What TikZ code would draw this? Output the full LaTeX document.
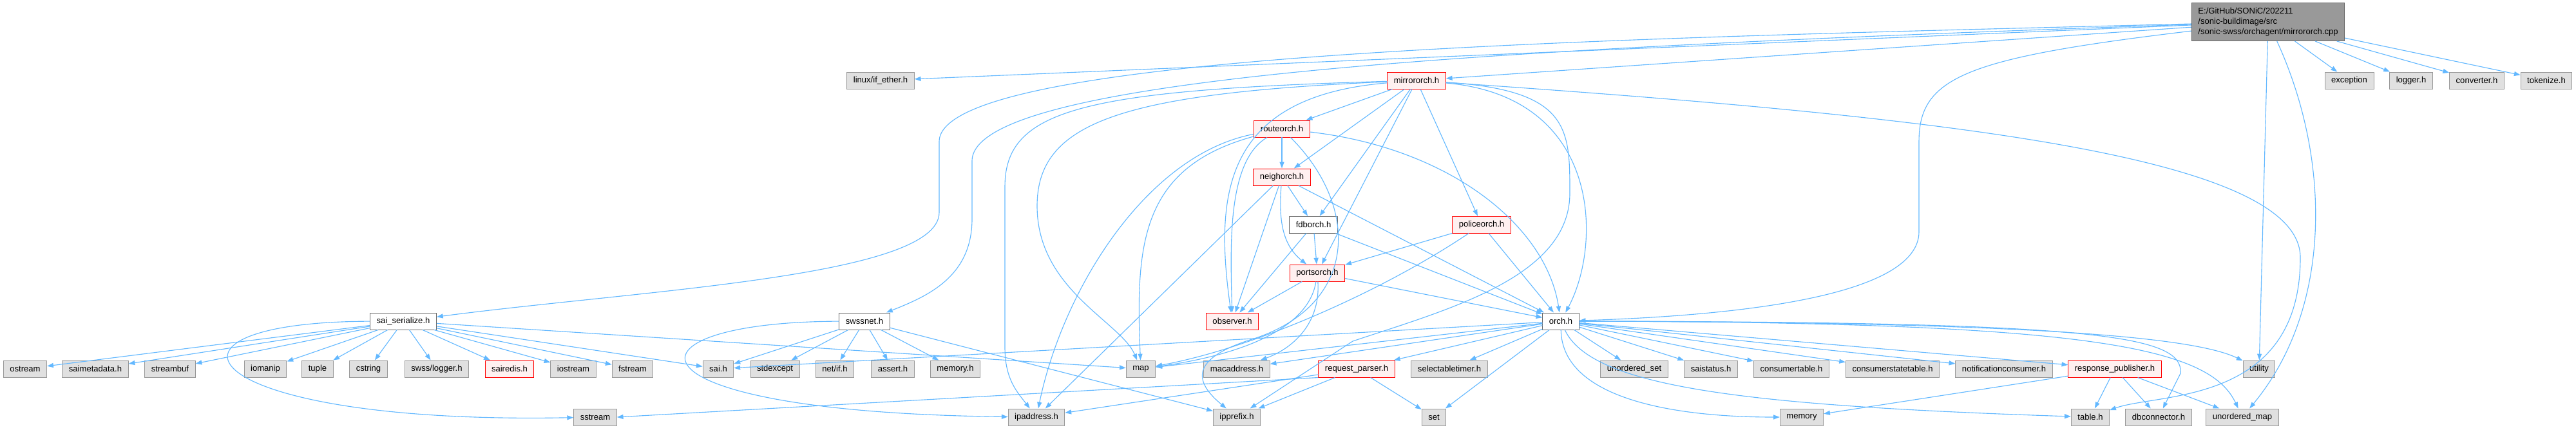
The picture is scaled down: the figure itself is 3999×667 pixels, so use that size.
\documentclass[tikz,border=0pt]{standalone}
\usepackage{fontspec}
\setmainfont{Liberation Sans}
\usetikzlibrary{arrows.meta}
\definecolor{edgeblue}{HTML}{63B8FF}
\definecolor{cutred}{HTML}{FF0000}
\definecolor{cutfill}{HTML}{FFF0F0}
\begin{document}
\begin{tikzpicture}[x=0.25mm,y=-0.25mm,font=\fontsize{9.3}{11.3}\selectfont,
    box/.style={line width=0.7pt,minimum height=6.5mm,inner xsep=2.5mm,inner ysep=0pt},
    sysfile/.style={box,draw=black!40,fill=black!12},
    docfile/.style={box,draw=black!60,fill=white},
    cutfile/.style={box,draw=cutred,fill=cutfill},
    rootfile/.style={box,draw=black!60,fill=black!40,align=left,minimum height=14.75mm},
    arr/.style={draw=edgeblue,line width=0.8pt,-{Triangle[length=7pt,width=5pt]}}]
  \useasboundingbox (0,0) rectangle (3999,667);
  \node[rootfile] (root) at (3521,34)
    {E:/GitHub/SONiC/202211\\/sonic-buildimage/src\\/sonic-swss/orchagent/mirrororch.cpp};
  \node[sysfile] (ifether) at (1367,125) {linux/if\_ether.h};
  \node[cutfile] (mirror) at (2199,125) {mirrororch.h};
  \node[sysfile] (exception) at (3647,125) {exception};
  \node[sysfile] (logger) at (3743,125) {logger.h};
  \node[sysfile] (converter) at (3845,125) {converter.h};
  \node[sysfile] (tokenize) at (3953,125) {tokenize.h};
  \node[cutfile] (route) at (1990,200) {routeorch.h};
  \node[cutfile] (neigh) at (1990,275) {neighorch.h};
  \node[docfile] (fdb) at (2039,349) {fdborch.h};
  \node[cutfile] (police) at (2300,349) {policeorch.h};
  \node[cutfile] (ports) at (2045,424) {portsorch.h};
  \node[docfile] (saiser) at (626,499) {sai\_serialize.h};
  \node[docfile] (swssnet) at (1342,499) {swssnet.h};
  \node[cutfile] (observer) at (1913,499) {observer.h};
  \node[docfile] (orch) at (2423,499) {orch.h};
  \node[sysfile] (ostream) at (39,573) {ostream};
  \node[sysfile] (saimeta) at (148,573) {saimetadata.h};
  \node[sysfile] (streambuf) at (264,573) {streambuf};
  \node[sysfile] (iomanip) at (412,573) {iomanip};
  \node[sysfile] (tuple) at (493,573) {tuple};
  \node[sysfile] (cstring) at (572,573) {cstring};
  \node[sysfile] (swsslog) at (678,573) {swss/logger.h};
  \node[cutfile] (sairedis) at (791,573) {sairedis.h};
  \node[sysfile] (iostream) at (890,573) {iostream};
  \node[sysfile] (fstream) at (982,573) {fstream};
  \node[sysfile] (sai) at (1115,573) {sai.h};
  \node[sysfile] (stdexcept) at (1203,573) {stdexcept};
  \node[sysfile] (netif) at (1296,573) {net/if.h};
  \node[sysfile] (assert) at (1386,573) {assert.h};
  \node[sysfile] (memoryh) at (1483,573) {memory.h};
  \node[sysfile] (map) at (1771,573) {map};
  \node[sysfile] (macaddr) at (1920,573) {macaddress.h};
  \node[cutfile] (reqparser) at (2106,573) {request\_parser.h};
  \node[sysfile] (seltimer) at (2250,573) {selectabletimer.h};
  \node[sysfile] (uset) at (2537,573) {unordered\_set};
  \node[sysfile] (saistatus) at (2656,573) {saistatus.h};
  \node[sysfile] (constable) at (2781,573) {consumertable.h};
  \node[sysfile] (consstate) at (2938,573) {consumerstatetable.h};
  \node[sysfile] (notif) at (3111,573) {notificationconsumer.h};
  \node[cutfile] (resppub) at (3283,573) {response\_publisher.h};
  \node[sysfile] (utility) at (3507,573) {utility};
  \node[sysfile] (sstream) at (924,648) {sstream};
  \node[sysfile] (ipaddress) at (1609,648) {ipaddress.h};
  \node[sysfile] (ipprefix) at (1920,648) {ipprefix.h};
  \node[sysfile] (set) at (2226,648) {set};
  \node[sysfile] (memory) at (2797,648) {memory};
  \node[sysfile] (table) at (3245,648) {table.h};
  \node[sysfile] (dbconn) at (3351,648) {dbconnector.h};
  \node[sysfile] (umap) at (3481,648) {unordered\_map};

  \path (root) edge[arr] (ifether) edge[arr] (mirror) edge[arr] (utility)
    edge[arr] (exception) edge[arr] (logger) edge[arr] (converter) edge[arr] (tokenize);
  \draw[arr] (root) .. controls (2500,60) and (1458,80) .. (1458,220) -- (1458,330)
    .. controls (1458,430) and (1000,450) .. (saiser);
  \draw[arr] (root) .. controls (2300,75) and (1509,120) .. (1509,250) -- (1509,340)
    .. controls (1509,430) and (1440,460) .. (swssnet);
  \draw[arr] (root) .. controls (3050,90) and (2979,120) .. (2979,220) -- (2979,360)
    .. controls (2979,460) and (2700,490) .. (orch);
  \draw[arr] (root) .. controls (3620,250) and (3620,480) .. (umap);

  \path (mirror) edge[arr] (route) edge[arr] (neigh) edge[arr] (fdb) edge[arr] (ports)
    edge[arr] (police);
  \draw[arr] (mirror) .. controls (1900,150) and (1885,300) .. (observer);
  \draw[arr] (mirror) .. controls (2487,150) and (2487,380) .. (orch);
  \draw[arr] (mirror) .. controls (2437,140) and (2437,200) .. (2437,300)
    .. controls (2437,430) and (2250,480) .. (2100,530) -- (ipprefix);
  \draw[arr] (mirror) .. controls (3000,180) and (3571,240) .. (3571,400)
    .. controls (3571,630) and (3350,610) .. (table);
  \draw[arr] (mirror) .. controls (1680,140) and (1560,170) .. (1560,290) -- (1560,540)
    .. controls (1560,590) and (1580,610) .. (ipaddress);
  \draw[arr] (mirror) .. controls (1740,145) and (1610,190) .. (1610,320)
    .. controls (1610,450) and (1740,500) .. (map);

  \path (route) edge[arr] (neigh);
  \draw[arr] (route) .. controls (1905,250) and (1910,380) .. (observer);
  \draw[arr] (route) .. controls (1780,240) and (1650,450) .. (ipaddress);
  \draw[arr] (route) .. controls (1770,260) and (1763,380) .. (map);
  \draw[arr] (route) .. controls (2110,320) and (2110,470) .. (1950,525)
    .. controls (1850,555) and (1850,590) .. (ipprefix);
  \draw[arr] (route) .. controls (2250,230) and (2400,350) .. (orch);

  \path (neigh) edge[arr] (fdb) edge[arr] (observer) edge[arr] (orch) edge[arr] (ipaddress);
  \draw[arr] (neigh) .. controls (1985,340) and (1990,380) .. (ports);
  \path (fdb) edge[arr] (ports) edge[arr] (observer) edge[arr] (orch);
  \path (police) edge[arr] (ports) edge[arr] (orch);
  \draw[arr] (police) .. controls (2150,450) and (1950,540) .. (map);
  \path (ports) edge[arr] (observer) edge[arr] (orch);
  \draw[arr] (ports) .. controls (2030,520) and (1900,555) .. (map);
  \draw[arr] (ports) .. controls (2050,500) and (2010,540) .. (macaddr);

  \path (orch) edge[arr] (sai) edge[arr] (map) edge[arr] (macaddr) edge[arr] (reqparser)
    edge[arr] (seltimer) edge[arr] (set) edge[arr] (uset) edge[arr] (saistatus)
    edge[arr] (constable) edge[arr] (consstate) edge[arr] (notif) edge[arr] (resppub);
  \draw[arr] (orch) .. controls (2425,620) and (2600,648) .. (memory);
  \draw[arr] (orch) .. controls (2470,600) and (2700,630) .. (table);
  \draw[arr] (orch) .. controls (3250,500) and (3390,520) .. (3385,580) -- (dbconn);
  \draw[arr] (orch) .. controls (3250,500) and (3430,540) .. (umap);
  \draw[arr] (orch) .. controls (3100,500) and (3400,520) .. (utility);

  \path (reqparser) edge[arr] (ipaddress) edge[arr] (ipprefix) edge[arr] (set);
  \draw[arr] (reqparser.south west) -- (sstream.east);
  \path (resppub) edge[arr] (memory) edge[arr] (table) edge[arr] (dbconn) edge[arr] (umap);

  \path (swssnet) edge[arr] (sai) edge[arr] (stdexcept) edge[arr] (netif) edge[arr] (assert)
    edge[arr] (memoryh) edge[arr] (ipprefix);
  \draw[arr] (swssnet) .. controls (950,500) and (950,640) .. (ipaddress);

  \path (saiser) edge[arr] (ostream) edge[arr] (saimeta) edge[arr] (streambuf)
    edge[arr] (iomanip) edge[arr] (tuple) edge[arr] (cstring) edge[arr] (swsslog)
    edge[arr] (sairedis) edge[arr] (iostream) edge[arr] (fstream) edge[arr] (sai)
    edge[arr] (map);
  \draw[arr] (saiser) .. controls (200,500) and (300,660) .. (sstream);
\end{tikzpicture}
\end{document}
